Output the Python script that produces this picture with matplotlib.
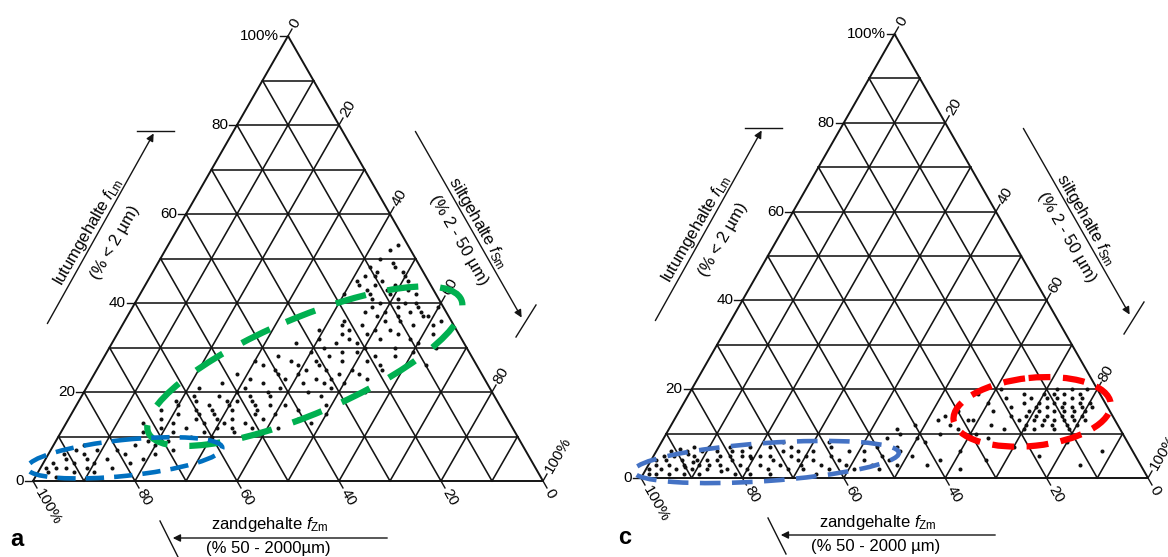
import numpy as np
import matplotlib.pyplot as plt
from matplotlib.patches import Ellipse

plt.rcParams['font.family'] = ['Liberation Sans', 'DejaVu Sans']
plt.rcParams['mathtext.fontset'] = 'custom'
plt.rcParams['mathtext.rm'] = 'Liberation Sans'
plt.rcParams['mathtext.it'] = 'Liberation Sans:italic'

# ---- data: lutum (clay) and silt percentages per sample ----
a_clay = [2, 3, 4, 5, 3, 6, 7, 4, 2, 5, 6, 3, 8, 4, 7, 5, 3, 6, 4, 7, 5, 8, 6, 9, 8, 9, 7, 3, 1, 2,
          11, 12, 13, 14, 15, 16, 17, 18, 12, 13, 11, 14, 15, 16, 17, 18, 19, 12, 14, 16, 18, 13, 15, 17, 19,
          11, 12, 14, 16, 18, 19, 15, 17, 13, 11, 10, 19, 18, 16, 14, 12, 10, 15, 13, 17,
          12, 14, 16, 17, 18, 19, 13, 15, 20, 17,
          21, 22, 23, 24, 25, 26, 27, 28, 29, 21, 22, 23, 24, 25, 26, 27, 28, 29, 20, 21, 22, 24, 26, 28,
          23, 25, 27, 29, 20, 22, 24, 26, 28, 20, 23, 25, 27, 29, 21, 26, 24, 22, 25, 27, 23,
          31, 32, 33, 34, 35, 36, 37, 38, 39, 31, 32, 33, 34, 35, 36, 37, 38, 39, 30, 31, 33, 35, 37,
          30, 32, 34, 36, 38, 30, 33, 35, 37, 39, 31, 34, 36, 38, 32, 39, 30,
          41, 42, 43, 44, 45, 46, 47, 48, 41, 42, 43, 44, 45, 46, 40, 40, 42, 44, 46, 49, 50, 52, 53, 47,
          41, 43, 45, 48, 40, 42]
a_silt = [2, 3, 2, 4, 5, 3, 5, 6, 7, 8, 7, 9, 6, 10, 9, 12, 14, 15, 17, 13, 19, 16, 21, 18, 20, 22, 24, 1, 4, 11,
          16, 19, 15, 18, 21, 17, 20, 23, 24, 27, 22, 25, 28, 24, 26, 29, 22, 30, 32, 31, 34, 35, 36, 38, 33,
          28, 33, 29, 27, 31, 37, 40, 35, 21, 34, 26, 27, 19, 36, 38, 37, 30, 25, 31, 30,
          42, 45, 44, 49, 52, 47, 48, 50, 55, 41,
          22, 26, 31, 28, 35, 32, 37, 34, 40, 38, 42, 44, 40, 45, 43, 47, 44, 49, 30, 48, 50, 52, 55, 53,
          38, 41, 42, 46, 36, 34, 48, 39, 57, 44, 47, 50, 52, 60, 31, 64, 36, 46, 56, 30, 54,
          36, 40, 44, 39, 47, 43, 49, 46, 52, 48, 52, 55, 50, 57, 54, 58, 55, 60, 42, 60, 62, 61, 59,
          50, 46, 53, 51, 57, 56, 49, 43, 53, 47, 44, 45, 62, 50, 58, 56, 64,
          41, 45, 48, 42, 46, 50, 44, 47, 51, 54, 52, 49, 41, 44, 48, 53, 49, 45, 42, 46, 43, 44, 45, 49,
          46, 44, 51, 42, 55, 40]

c_clay = [1, 2, 3, 4, 5, 2, 3, 5, 6, 1, 2, 4, 6, 3, 5, 7, 1, 2, 4, 6, 3, 7, 1, 4, 6.5, 2.5, 5.5, 3.5,
          1, 2, 4, 5, 6, 3, 5, 7, 2, 4, 6, 1, 3, 5, 7, 2, 4, 6, 3, 1.5, 5, 4.5,
          1, 3, 5, 7, 2, 4, 6, 3, 5, 7, 2, 4, 6, 1, 3, 5, 8,
          2, 4, 6, 3, 5, 7, 2, 4, 6, 3, 8, 5, 1,
          2, 4, 6, 3, 5, 7, 4, 6, 8, 2, 9, 10, 3,
          11, 12, 9, 13, 10, 14, 12, 8, 4, 3, 6, 13, 11, 2, 15, 7, 5, 10,
          19, 17, 15, 13, 16, 12, 18, 14, 10, 20, 11, 17, 9, 19, 13,
          11, 12, 13, 14, 15, 16, 17, 18, 12, 13, 14, 15, 16, 17, 18, 19,
          11, 12, 13, 14, 15, 16, 17, 18, 19, 20, 12, 13, 14, 15, 16, 17,
          11, 13, 14, 15, 16, 18, 19, 20, 12, 14, 16, 11, 13, 15, 17, 19, 20, 18,
          5, 3, 7, 4, 8, 6]
c_silt = [1, 0.5, 1.5, 1, 2, 3, 4, 4, 3, 5, 6, 6, 6, 7, 8, 7, 8, 9, 9, 9, 10, 10, 2.5, 3, 4.5, 7.5, 6.5, 8.5,
          11, 12, 11, 13, 12, 14, 15, 14, 16, 16, 17, 18, 18, 19, 18, 20, 13, 15, 12, 15, 17.5, 19.5,
          21, 22, 21, 22, 24, 24, 25, 26, 27, 26, 28, 29, 28, 25, 30, 23, 24,
          31, 32, 31, 34, 35, 34, 36, 37, 38, 39, 33, 30, 34,
          41, 42, 41, 44, 45, 43, 47, 48, 40, 46, 44, 46, 49,
          45, 48, 50, 52, 54, 53, 55, 52, 57, 55, 60, 58, 57, 62, 55, 47, 51, 59,
          57, 60, 62, 59, 65, 63, 63, 66, 61, 61, 66, 67, 64, 66, 68,
          72, 70, 73, 71, 74, 72, 75, 73, 75, 77, 76, 78, 77, 70, 76, 74,
          76, 78, 79, 73, 71, 75, 78, 71, 70, 72, 73, 75, 78, 76, 79, 73,
          79, 71, 69, 69, 70, 78, 77, 75, 80, 80, 81, 70, 81, 80, 80, 72, 78, 68,
          76, 85, 70, 66, 80, 88]

tick_values = [0, 20, 40, 60, 80, 100]
grid_values = list(range(10, 100, 10))

# panel placement in figure pixels: left corner x, base line y, width, height
panels = {'a': (33, 481, 510, 445), 'c': (641, 478, 507, 444)}
panel_data = {'a': (a_clay, a_silt), 'c': (c_clay, c_silt)}
paren_zand = {'a': '(% 50 - 2000µm)', 'c': '(% 50 - 2000 µm)'}

# hand drawn rings: (panel, clay, silt, width px, height px, tilt deg, colour, lw, dashes)
rings = [('a', 25.8, 40.4, 340, 96, 23, '#00B050', 4.5, (5, 3.5)),
         ('a', 5.2, 15.4, 196, 36, 6, '#0070C0', 3.3, (4, 2.2)),
         ('c', 3.6, 22.9, 266, 38, 4, '#4472C4', 3.3, (4.5, 2.5)),
         ('c', 14.9, 69.7, 158, 68, 6, '#FF0000', 4.5, (3.5, 2))]


def tern(p, clay, silt):
    x0, yb, w, h = p
    clay = np.asarray(clay, float)
    silt = np.asarray(silt, float)
    return x0 + w * (silt + clay / 2) / 100, yb - h * clay / 100


fig = plt.figure(figsize=(11.68, 5.57), dpi=100)
ax = fig.add_axes([0, 0, 1, 1])
ax.set_xlim(0, 1168)
ax.set_ylim(557, 0)
ax.axis('off')

ink = '#141414'
for name, p in panels.items():
    x0, yb, w, h = p
    L = np.hypot(w / 2, h)
    up_right = np.array([w / 2, -h]) / L
    down_right = np.array([w / 2, h]) / L

    # outline + grid
    xs, ys = tern(p, [0, 0, 100, 0], [0, 100, 0, 0])
    ax.plot(xs, ys, color=ink, lw=1.4, solid_joinstyle='miter')
    for v in grid_values:
        for cl, si in [([v, v], [0, 100 - v]),
                       ([0, 100 - v], [v, v]),
                       ([0, 100 - v], [100 - v, 0])]:
            gx, gy = tern(p, cl, si)
            ax.plot(gx, gy, color=ink, lw=1.15)

    # ticks and labels
    for t in tick_values:
        lab = '100%' if t == 100 else str(t)
        # lutum, left edge
        px, py = tern(p, t, 0)
        ax.plot([px - 8, px], [py, py], color=ink, lw=1.0)
        ax.text(px - 9, py, lab, ha='right', va='center', fontsize=11)
        # silt, right edge
        px, py = tern(p, 100 - t, t)
        e = np.array([px, py]) + 8 * up_right
        ax.plot([px, e[0]], [py, e[1]], color=ink, lw=1.0)
        q = np.array([px, py]) + 10 * up_right
        ax.text(q[0], q[1], lab, rotation=60, rotation_mode='anchor',
                ha='left', va='center', fontsize=11)
        # zand, bottom edge
        px, py = tern(p, 0, 100 - t)
        e = np.array([px, py]) + 8 * down_right
        ax.plot([px, e[0]], [py, e[1]], color=ink, lw=1.0)
        q = np.array([px, py]) + 10 * down_right
        ax.text(q[0], q[1], lab, rotation=-60, rotation_mode='anchor',
                ha='left', va='center', fontsize=11)

    # axis titles with arrows
    ax.annotate('', xy=(x0 + 122, yb - 350), xytext=(x0 + 13, yb - 155),
                arrowprops=dict(arrowstyle='-|>', color=ink, lw=1.0, mutation_scale=11))
    ax.plot([x0 + 104, x0 + 141], [yb - 350, yb - 350], color=ink, lw=1.0)
    ax.text(x0 + 55, yb - 249, r'lutumgehalte $f_{\mathrm{Lm}}$', rotation=60,
            ha='center', va='center', fontsize=12)
    ax.text(x0 + 82, yb - 239, '(% < 2 µm)', rotation=60,
            ha='center', va='center', fontsize=12)

    ax.annotate('', xy=(x0 + 490, yb - 161), xytext=(x0 + 381, yb - 352),
                arrowprops=dict(arrowstyle='-|>', color=ink, lw=1.0, mutation_scale=11))
    ax.plot([x0 + 483, x0 + 503], [yb - 144, yb - 176], color=ink, lw=1.0)
    ax.text(x0 + 445, yb - 258, r'siltgehalte $f_{\mathrm{Sm}}$', rotation=-60,
            ha='center', va='center', fontsize=12)
    ax.text(x0 + 426, yb - 241, '(% 2 - 50 µm)', rotation=-60,
            ha='center', va='center', fontsize=12)

    ax.annotate('', xy=(x0 + 137, yb + 57), xytext=(x0 + 357, yb + 57),
                arrowprops=dict(arrowstyle='-|>', color=ink, lw=1.0, mutation_scale=11))
    ax.plot([x0 + 127, x0 + 145], [yb + 40, yb + 76], color=ink, lw=1.0)
    ax.text(x0 + 237, yb + 44, r'zandgehalte $f_{\mathrm{Zm}}$',
            ha='center', va='center', fontsize=12)
    ax.text(x0 + 235, yb + 68, paren_zand[name],
            ha='center', va='center', fontsize=12)

    ax.text(x0 - 16, yb + 59, name, ha='center', va='center',
            fontsize=17, fontweight='bold')

    # samples
    cl, si = panel_data[name]
    sx, sy = tern(p, cl, si)
    ax.plot(sx, sy, 'o', ms=2.9, color='#111111', mec='none')

for name, cl, si, rw, rh, tilt, col, lw, dash in rings:
    cx, cy = tern(panels[name], cl, si)
    ax.add_patch(Ellipse((cx, cy), rw, rh, angle=-tilt, fill=False,
                         edgecolor=col, lw=lw, linestyle=(0, dash), zorder=5))

fig.savefig('out.png', dpi=100)
